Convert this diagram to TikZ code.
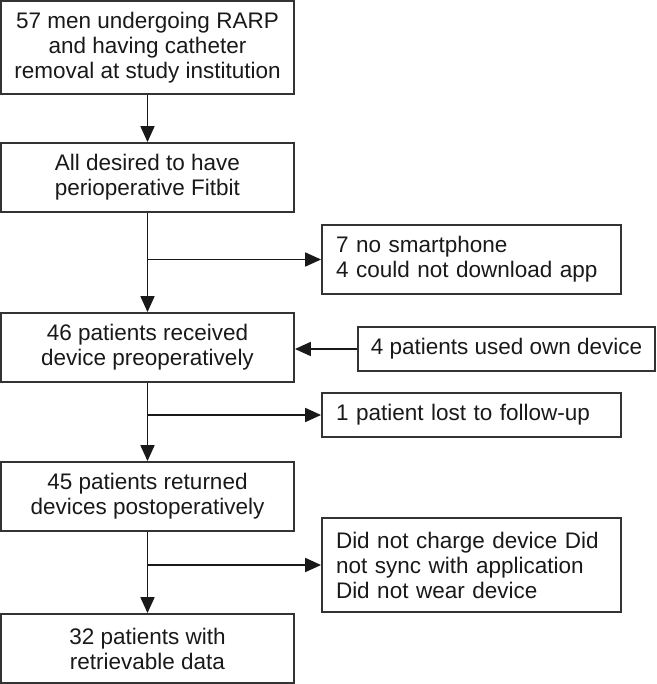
\documentclass[tikz,border=0pt]{standalone}
\usepackage{fontspec}
\setmainfont{Liberation Sans}
\usetikzlibrary{arrows.meta}
\begin{document}
\begin{tikzpicture}[x=1pt,y=-1pt,
  every node/.style={font=\fontsize{22.5}{25}\selectfont, text=black!90},
  mainbox/.style={draw=black!80, line width=1.8pt, minimum width=293pt, align=center, inner sep=0pt},
  sidebox/.style={draw=black!80, line width=1.8pt, align=left, inner xsep=14pt, inner ysep=0pt, text width=271pt},
  onebox/.style={draw=black!80, line width=1.8pt, inner sep=0pt},
  flow/.style={draw=black!90, line width=1.8pt, -{Triangle[length=16pt,width=14pt]}}]
\useasboundingbox (0,0) rectangle (656,684);
\node[mainbox, minimum height=93pt] (b1) at (147.5,47.5) {57 men undergoing RARP\\and having catheter\\removal at study institution};
\node[mainbox, minimum height=69pt] (b2) at (147.5,177.5) {All desired to have\\perioperative Fitbit};
\node[sidebox, minimum height=69pt] (s1) at (471.5,259.5) {7 no smartphone\\4 could not download app};
\node[mainbox, minimum height=69pt] (b4) at (147.5,347.5) {46 patients received\\device preoperatively};
\node[onebox, minimum width=297pt, minimum height=44pt] (s2) at (506.5,349) {4 patients used own device};
\node[sidebox, minimum height=44pt] (s3) at (471.5,415) {1 patient lost to follow-up};
\node[mainbox, minimum height=69pt] (b7) at (147.5,496.5) {45 patients returned\\devices postoperatively};
\node[sidebox, minimum height=94pt] (s4) at (471.5,565) {Did not charge device Did\\not sync with application\\Did not wear device};
\node[mainbox, minimum height=69pt] (b8) at (147.5,648.5) {32 patients with\\retrievable data};
\draw[flow] (b1.south) -- (b2.north);
\draw[flow] (b2.south) -- (b4.north);
\draw[flow] (b2.south |- s1.west) -- (s1.west);
\draw[flow] (s2.west) -- (s2.west -| b4.east);
\draw[flow] (b4.south) -- (b7.north);
\draw[flow] (b4.south |- s3.west) -- (s3.west);
\draw[flow] (b7.south) -- (b8.north);
\draw[flow] (b7.south |- s4.west) -- (s4.west);
\end{tikzpicture}
\end{document}
